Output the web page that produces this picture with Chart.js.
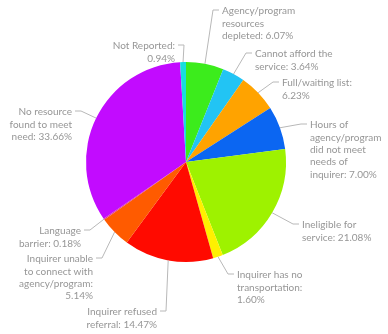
<!DOCTYPE html>
<html>
<head>
<meta charset="utf-8">
<script src="https://cdn.jsdelivr.net/npm/chart.js@4"></script>
<style>
  html, body { margin: 0; padding: 0; background: #fff; }
  #wrap { width: 388px; height: 334px; }
</style>
</head>
<body>
<div id="wrap"><canvas id="myChart" width="388" height="334"></canvas></div>
<script>
// reasons, clockwise from 12 o'clock
const categories = [
  'Agency/program resources depleted',
  'Cannot afford the service',
  'Full/waiting list',
  'Hours of agency/program did not meet needs of inquirer',
  'Ineligible for service',
  'Inquirer has no transportation',
  'Inquirer refused referral',
  'Inquirer unable to connect with agency/program',
  'Language barrier',
  'No resource found to meet need',
  'Not Reported'
];
const percents = [6.07, 3.64, 6.23, 7.00, 21.08, 1.60, 14.47, 5.14, 0.18, 33.66, 0.94];

// label text as broken into lines in the picture
const labelLines = [
  ['Agency/program', 'resources', 'depleted: 6.07%'],
  ['Cannot afford the', 'service: 3.64%'],
  ['Full/waiting list:', '6.23%'],
  ['Hours of', 'agency/program', 'did not meet', 'needs of', 'inquirer: 7.00%'],
  ['Ineligible for', 'service: 21.08%'],
  ['Inquirer has no', 'transportation:', '1.60%'],
  ['Inquirer refused', 'referral: 14.47%'],
  ['Inquirer unable', 'to connect with', 'agency/program:', '5.14%'],
  ['Language', 'barrier: 0.18%'],
  ['No resource', 'found to meet', 'need: 33.66%'],
  ['Not Reported:', '0.94%']
];

const colors = ['#3cec1c', '#22c4f4', '#ffa300', '#0b66f2', '#9ef200', '#fff000',
                '#ff0a00', '#ff5b00', '#e0408a', '#c20bff', '#17dede'];

// where each label block sits (first line middle), and its alignment
const labelPlace = [
  { x: 222, y: 11, align: 'left' },
  { x: 255, y: 54, align: 'left' },
  { x: 282, y: 83, align: 'left' },
  { x: 310, y: 125, align: 'left' },
  { x: 302, y: 225, align: 'left' },
  { x: 237, y: 275, align: 'left' },
  { x: 157, y: 312, align: 'right' },
  { x: 93, y: 259, align: 'right' },
  { x: 81, y: 231, align: 'right' },
  { x: 72, y: 112, align: 'right' },
  { x: 175, y: 46, align: 'right' }
];

const lineH = 12.4;

// draws the gray text and the elbow leader lines
const leaderLabels = {
  id: 'leaderLabels',
  afterDraw(chart) {
    const ctx = chart.ctx;
    const arcs = chart.getDatasetMeta(0).data;
    ctx.save();
    ctx.font = '10px Lato, "Open Sans", sans-serif';
    ctx.fillStyle = '#969696';
    ctx.strokeStyle = '#b8b8b8';
    ctx.lineWidth = 1;
    ctx.textBaseline = 'middle';
    arcs.forEach((arc, i) => {
      const p = labelPlace[i];
      const mid = (arc.startAngle + arc.endAngle) / 2;
      const ax = arc.x + Math.cos(mid) * arc.outerRadius;
      const ay = arc.y + Math.sin(mid) * arc.outerRadius;
      const dir = p.align === 'left' ? -1 : 1;
      const endX = p.x + dir * 3;
      const elbowX = p.x + dir * 9;
      const ly = p.y - 1;
      ctx.beginPath();
      ctx.moveTo(ax, ay);
      ctx.lineTo(elbowX, ly);
      ctx.lineTo(endX, ly);
      ctx.stroke();
      ctx.textAlign = p.align;
      labelLines[i].forEach((t, k) => {
        ctx.fillText(t, p.x, p.y + k * lineH);
      });
    });
    ctx.restore();
  }
};

new Chart(document.getElementById('myChart'), {
  type: 'pie',
  data: {
    labels: categories,
    datasets: [{
      data: percents,
      backgroundColor: colors,
      borderWidth: 0
    }]
  },
  options: {
    responsive: false,
    animation: false,
    layout: { padding: { left: 86, right: 102, top: 62, bottom: 72 } },
    plugins: {
      legend: { display: false },
      tooltip: { enabled: false }
    }
  },
  plugins: [leaderLabels]
});
</script>
</body>
</html>
